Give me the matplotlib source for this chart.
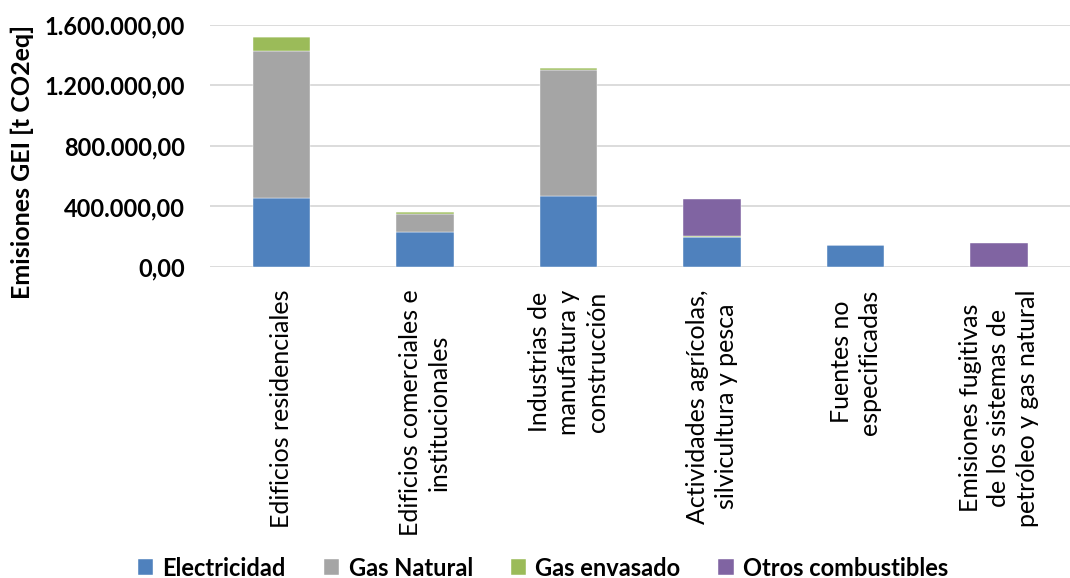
import numpy as np
import matplotlib.pyplot as plt
from matplotlib.ticker import FuncFormatter

# categorías y series (t CO2eq)
categorias = ['Edificios residenciales',
              'Edificios comerciales e\ninstitucionales',
              'Industrias de\nmanufatura y\nconstrucción',
              'Actividades agrícolas,\nsilvicultura y pesca',
              'Fuentes no\nespecificadas',
              'Emisiones fugitivas\nde los sistemas de\npetróleo y gas natural']
electricidad = [459000, 234000, 468000, 200000, 144000, 0]
gas_natural = [971000, 115000, 834000, 0, 0, 0]
gas_envasado = [88000, 15000, 15000, 3000, 0, 0]
otros = [3000, 0, 0, 245000, 0, 159000]

series = [('Electricidad', electricidad, '#4F81BD'),
          ('Gas Natural', gas_natural, '#A5A5A5'),
          ('Gas envasado', gas_envasado, '#9BBB59'),
          ('Otros combustibles', otros, '#8064A2')]

plt.rcParams['font.family'] = ['Lato', 'DejaVu Sans']

fig = plt.figure(figsize=(10.7, 5.78), dpi=100)
ax = fig.add_axes([0.196, 0.538, 0.818, 0.419])

x = np.arange(len(categorias))
bottom = np.zeros(len(categorias))
for nombre, vals, color in series:
    ax.bar(x, vals, 0.4, bottom=bottom, color=color, label=nombre,
           edgecolor='white', linewidth=0.3, zorder=3)
    bottom += np.array(vals)

ax.set_ylim(0, 1600000)
ax.set_xlim(-0.5, len(categorias) - 0.4)
ax.set_yticks(np.arange(0, 1600001, 400000))


def fmt(v, pos):
    s = '{:,.2f}'.format(v)
    return s.replace(',', 'X').replace('.', ',').replace('X', '.')


ax.yaxis.set_major_formatter(FuncFormatter(fmt))
ax.grid(axis='y', color='#D9D9D9', linewidth=1.3, zorder=0)
for s in ax.spines.values():
    s.set_visible(False)
ax.tick_params(length=0)
for lab in ax.get_yticklabels():
    lab.set_fontsize(17)
    lab.set_fontweight('bold')
ax.tick_params(axis='y', pad=18)

ax.set_xticks(x)
ax.set_xticklabels(categorias, rotation=90, fontsize=18, ha='center',
                   va='top', multialignment='center', linespacing=1.3)
ax.tick_params(axis='x', pad=16)

# título del eje y
fig.text(22 / 1070, 1 - 162 / 578, 'Emisiones GEI [t CO2eq]', rotation=90,
         fontsize=18, fontweight='bold', ha='center', va='center')

fig.legend(loc='center', bbox_to_anchor=(0.5075, 1 - 568 / 578), ncol=4,
           frameon=False, prop={'size': 17, 'weight': 'bold'},
           handlelength=0.65, handleheight=0.65, handletextpad=0.4,
           columnspacing=1.6, borderpad=0)

fig.savefig('out.png', dpi=100)
